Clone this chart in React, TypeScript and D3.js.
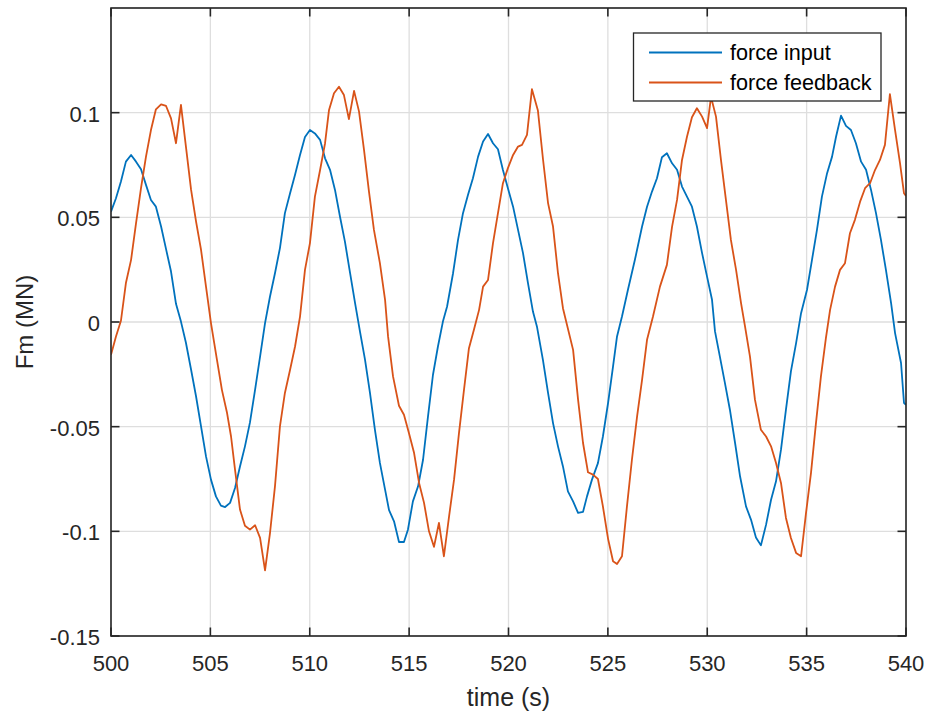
import React from "react";
import * as d3 from "d3";

const tInput = [500.00,500.25,500.50,500.75,501.01,501.26,501.51,501.76,502.01,502.26,502.52,502.77,503.02,503.27,503.52,503.77,504.03,504.28,504.53,504.78,505.03,505.28,505.53,505.74,505.99,506.24,506.49,506.74,506.99,507.25,507.50,507.75,508.00,508.25,508.50,508.75,509.01,509.26,509.51,509.76,510.01,510.26,510.52,510.77,511.02,511.27,511.52,511.77,512.03,512.28,512.53,512.78,513.03,513.28,513.53,513.79,513.99,514.24,514.49,514.74,514.94,515.19,515.45,515.70,515.95,516.20,516.45,516.70,516.91,517.21,517.46,517.71,517.96,518.21,518.47,518.72,518.97,519.22,519.47,519.72,519.97,520.23,520.48,520.73,520.98,521.23,521.43,521.73,521.99,522.24,522.49,522.74,522.99,523.25,523.50,523.75,523.95,524.20,524.50,524.75,525.01,525.26,525.46,525.71,526.01,526.36,526.72,526.97,527.22,527.47,527.72,527.97,528.23,528.48,528.73,528.98,529.23,529.48,529.74,529.99,530.24,530.39,530.64,530.89,531.14,531.40,531.65,531.95,532.20,532.45,532.70,532.96,533.21,533.46,533.71,533.96,534.21,534.47,534.72,535.02,535.27,535.52,535.77,536.03,536.28,536.48,536.73,536.98,537.23,537.48,537.74,537.99,538.24,538.49,538.74,538.99,539.25,539.45,539.55,539.75,539.90,540.00];
const forceInput = [0.0527,0.0591,0.0671,0.0766,0.0798,0.0766,0.0730,0.0655,0.0583,0.0551,0.0456,0.0348,0.0241,0.0087,0.0002,-0.0099,-0.0228,-0.0356,-0.0499,-0.0642,-0.0753,-0.0833,-0.0877,-0.0884,-0.0864,-0.0793,-0.0690,-0.0594,-0.0481,-0.0323,-0.0165,-0.0005,0.0122,0.0233,0.0353,0.0520,0.0615,0.0703,0.0798,0.0884,0.0917,0.0901,0.0870,0.0782,0.0727,0.0631,0.0504,0.0384,0.0233,0.0090,-0.0047,-0.0180,-0.0339,-0.0515,-0.0673,-0.0801,-0.0899,-0.0952,-0.1051,-0.1051,-0.0992,-0.0857,-0.0785,-0.0658,-0.0451,-0.0252,-0.0117,0.0002,0.0074,0.0233,0.0392,0.0520,0.0607,0.0687,0.0790,0.0862,0.0898,0.0854,0.0825,0.0726,0.0639,0.0551,0.0440,0.0329,0.0186,0.0050,-0.0021,-0.0180,-0.0339,-0.0483,-0.0594,-0.0690,-0.0809,-0.0857,-0.0912,-0.0907,-0.0833,-0.0753,-0.0674,-0.0547,-0.0387,-0.0212,-0.0069,0.0026,0.0154,0.0297,0.0456,0.0551,0.0623,0.0687,0.0787,0.0806,0.0758,0.0727,0.0647,0.0599,0.0551,0.0456,0.0329,0.0217,0.0106,-0.0045,-0.0168,-0.0292,-0.0419,-0.0578,-0.0737,-0.0881,-0.0944,-0.1029,-0.1067,-0.0968,-0.0849,-0.0761,-0.0610,-0.0419,-0.0236,-0.0101,0.0042,0.0154,0.0297,0.0440,0.0599,0.0711,0.0790,0.0885,0.0986,0.0937,0.0917,0.0854,0.0766,0.0727,0.0631,0.0520,0.0392,0.0249,0.0090,-0.0053,-0.0101,-0.0196,-0.0387,-0.0395];

const tFeedback = [500.00,500.25,500.50,500.75,501.01,501.26,501.51,501.76,502.01,502.26,502.52,502.77,503.02,503.27,503.52,503.77,504.03,504.28,504.53,504.78,505.03,505.33,505.58,505.84,506.04,506.24,506.49,506.74,506.99,507.25,507.50,507.75,508.00,508.25,508.50,508.75,509.01,509.26,509.51,509.76,510.01,510.26,510.52,510.77,510.97,511.22,511.47,511.72,511.97,512.23,512.48,512.73,512.98,513.23,513.53,513.79,513.94,514.19,514.49,514.74,514.99,515.25,515.50,515.75,516.00,516.25,516.50,516.75,517.01,517.26,517.51,517.76,518.01,518.26,518.52,518.72,518.97,519.22,519.47,519.72,519.97,520.23,520.48,520.68,520.93,521.18,521.48,521.74,521.99,522.24,522.49,522.74,522.84,523.25,523.50,523.75,524.00,524.25,524.50,524.75,525.01,525.26,525.46,525.71,525.96,526.21,526.47,526.72,526.97,527.27,527.62,527.97,528.23,528.48,528.73,528.98,529.23,529.48,529.74,529.99,530.19,530.44,530.69,530.94,531.19,531.45,531.70,531.90,532.15,532.40,532.70,532.96,533.21,533.46,533.71,533.96,534.21,534.47,534.72,534.97,535.22,535.47,535.72,535.97,536.18,536.43,536.68,536.93,537.18,537.43,537.69,537.94,538.19,538.44,538.69,538.94,539.19,539.45,539.70,539.90,540.00];
const forceFeedback = [-0.0157,-0.0069,0.0006,0.0186,0.0297,0.0472,0.0639,0.0790,0.0917,0.1016,0.1040,0.1032,0.0973,0.0854,0.1037,0.0838,0.0631,0.0480,0.0345,0.0169,-0.0005,-0.0180,-0.0324,-0.0435,-0.0547,-0.0705,-0.0896,-0.0973,-0.0992,-0.0971,-0.1031,-0.1186,-0.1008,-0.0785,-0.0499,-0.0339,-0.0228,-0.0117,0.0026,0.0249,0.0377,0.0599,0.0726,0.0854,0.1013,0.1093,0.1124,0.1084,0.0969,0.1104,0.1005,0.0822,0.0623,0.0440,0.0281,0.0106,-0.0069,-0.0260,-0.0400,-0.0443,-0.0530,-0.0626,-0.0769,-0.0864,-0.1000,-0.1074,-0.0960,-0.1119,-0.0928,-0.0753,-0.0530,-0.0324,-0.0125,-0.0037,0.0058,0.0169,0.0201,0.0377,0.0520,0.0663,0.0735,0.0798,0.0838,0.0846,0.0894,0.1112,0.1010,0.0774,0.0568,0.0456,0.0233,0.0066,0.0026,-0.0133,-0.0371,-0.0578,-0.0718,-0.0729,-0.0750,-0.0881,-0.1036,-0.1143,-0.1156,-0.1119,-0.0881,-0.0658,-0.0451,-0.0276,-0.0085,0.0026,0.0169,0.0273,0.0456,0.0583,0.0774,0.0885,0.0978,0.1021,0.0981,0.0926,0.1075,0.0981,0.0774,0.0583,0.0392,0.0249,0.0090,-0.0021,-0.0165,-0.0371,-0.0515,-0.0547,-0.0594,-0.0674,-0.0769,-0.0936,-0.1032,-0.1103,-0.1119,-0.0912,-0.0721,-0.0483,-0.0260,-0.0077,0.0058,0.0169,0.0249,0.0281,0.0424,0.0488,0.0575,0.0639,0.0663,0.0726,0.0774,0.0846,0.1089,0.0917,0.0758,0.0615,0.0602];

const xTicks = [500, 505, 510, 515, 520, 525, 530, 535, 540];
const yTicks = [-0.15, -0.1, -0.05, 0, 0.05, 0.1];
const yTickLabels = ["-0.15", "-0.1", "-0.05", "0", "0.05", "0.1"];
const seriesNames = ["force input", "force feedback"];
const seriesColors = ["#0072BD", "#D95319"];

const W = 926, H = 720;
const L = 111, R = 906, T = 8, B = 636;
const AX = "#262626";
const FONT = "'Liberation Sans', Arial, Helvetica, sans-serif";

export default function App() {
  const x = d3.scaleLinear().domain([500, 540]).range([L, R]);
  const y = d3.scaleLinear().domain([-0.15, 0.15]).range([B, T]);
  const line = d3.line<[number, number]>().x(d => x(d[0])).y(d => y(d[1]));
  const inputPts = tInput.map((t, i) => [t, forceInput[i]] as [number, number]);
  const feedPts = tFeedback.map((t, i) => [t, forceFeedback[i]] as [number, number]);
  const tick = 8.5;
  const legX0 = 633.5, legY0 = 33, legW = 247.5, legH = 68;
  return (
    <svg width={W} height={H} style={{ position: "absolute", left: 0, top: 0, background: "#fff" }} fontFamily={FONT}>
      <rect x={0} y={0} width={W} height={H} fill="#fff" />
      <defs>
        <clipPath id="plotclip"><rect x={L} y={T} width={R - L} height={B - T} /></clipPath>
      </defs>
      {/* grid */}
      <g stroke="#dedede" strokeWidth={1.3}>
        {xTicks.map(t => <line key={"gx" + t} x1={x(t)} x2={x(t)} y1={T} y2={B} />)}
        {[...yTicks, 0.15].map(t => <line key={"gy" + t} x1={L} x2={R} y1={y(t)} y2={y(t)} />)}
      </g>
      {/* data */}
      <g clipPath="url(#plotclip)" fill="none" strokeWidth={1.8} strokeLinejoin="round">
        <path d={line(inputPts) || ""} stroke={seriesColors[0]} />
        <path d={line(feedPts) || ""} stroke={seriesColors[1]} />
      </g>
      {/* axes box */}
      <rect x={L} y={T} width={R - L} height={B - T} fill="none" stroke={AX} strokeWidth={1.6} />
      <g stroke={AX} strokeWidth={1.6}>
        {xTicks.map(t => (
          <g key={"tx" + t}>
            <line x1={x(t)} x2={x(t)} y1={B} y2={B - tick} />
            <line x1={x(t)} x2={x(t)} y1={T} y2={T + tick} />
          </g>
        ))}
        {yTicks.map(t => (
          <g key={"ty" + t}>
            <line x1={L} x2={L + tick} y1={y(t)} y2={y(t)} />
            <line x1={R} x2={R - tick} y1={y(t)} y2={y(t)} />
          </g>
        ))}
      </g>
      {/* tick labels */}
      <g fill={AX} fontSize={22}>
        {xTicks.map(t => (
          <text key={"lx" + t} x={x(t)} y={671} textAnchor="middle">{t}</text>
        ))}
        {yTicks.map((t, i) => (
          <text key={"ly" + t} x={100} y={y(t) + 9} textAnchor="end">{yTickLabels[i]}</text>
        ))}
      </g>
      {/* axis labels */}
      <text x={(L + R) / 2} y={706} textAnchor="middle" fontSize={25} fill={AX}>time (s)</text>
      <text x={33} y={(T + B) / 2} textAnchor="middle" fontSize={24} fill={AX} transform={`rotate(-90, 33, ${(T + B) / 2})`}>Fm (MN)</text>
      {/* legend */}
      <g>
        <rect x={legX0} y={legY0} width={legW} height={legH} fill="#fff" stroke={AX} strokeWidth={1.3} />
        {seriesNames.map((n, i) => {
          const cy = 52.5 + i * 30;
          return (
            <g key={n}>
              <line x1={649} x2={722} y1={cy} y2={cy} stroke={seriesColors[i]} strokeWidth={1.8} />
              <text x={730} y={cy + 7.5} fontSize={21.6} fill="#000">{n}</text>
            </g>
          );
        })}
      </g>
    </svg>
  );
}
